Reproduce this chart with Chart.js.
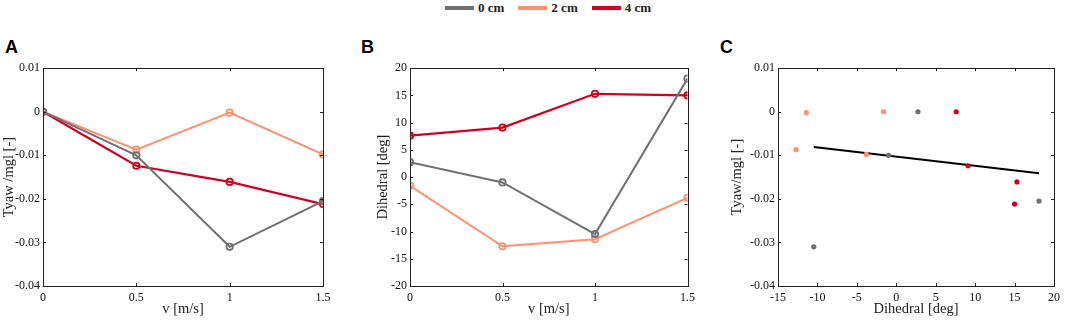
<!DOCTYPE html>
<html>
<head>
<meta charset="utf-8">
<script src="https://cdn.jsdelivr.net/npm/chart.js@4"></script>
<style>
  body { margin: 0; background: #fff; width: 1065px; height: 321px; position: relative; overflow: hidden; }
  canvas { position: absolute; }
  .panel-letter { position: absolute; font: bold 18px "Liberation Sans", Arial, sans-serif; color: #000; }
  #legend { position: absolute; top: 0; left: 445px; height: 15px; display: flex; align-items: center;
            font: bold 13px "Liberation Serif", "Times New Roman", serif; color: #222; }
  #legend .item { display: flex; align-items: center; margin-right: 14px; }
  #legend .swatch { width: 29px; height: 4px; margin-right: 4px; }
</style>
</head>
<body>
<div id="legend"></div>
<div class="panel-letter" style="left:5px; top:37px;">A</div>
<div class="panel-letter" style="left:361px; top:37px;">B</div>
<div class="panel-letter" style="left:720px; top:37px;">C</div>
<canvas id="chart-a" width="340" height="263" style="left:0px; top:58px;"></canvas>
<canvas id="chart-b" width="326" height="263" style="left:374px; top:58px;"></canvas>
<canvas id="chart-c" width="337" height="263" style="left:728px; top:58px;"></canvas>
<script>
// data
const seriesNames = ["0 cm", "2 cm", "4 cm"];
const seriesColors = ["#717171", "#FF8F6E", "#D2001E"];
const speeds = [0, 0.5, 1, 1.5];

const tyaw0 = [0, -0.0100, -0.0310, -0.0205];
const tyaw2 = [0, -0.0087, -0.0002, -0.0098];
const tyaw4 = [0, -0.0124, -0.0161, -0.0212];

const dihedral0 = [2.75, -0.98, -10.46, 18.1];
const dihedral2 = [-1.6, -12.7, -11.4, -3.8];
const dihedral4 = [7.6, 9.1, 15.3, 15.0];

const fitLineX = [-10.46, 18.1];
const fitLineY = [-0.0081, -0.0141];

const speedTicks = [0, 0.5, 1, 1.5];
const tyawTicks = [-0.04, -0.03, -0.02, -0.01, 0, 0.01];
const dihedralTicks = [-20, -15, -10, -5, 0, 5, 10, 15, 20];
const dihedralXTicks = [-15, -10, -5, 0, 5, 10, 15, 20];

const tyawSets = [tyaw0, tyaw2, tyaw4];
const dihedralSets = [dihedral0, dihedral2, dihedral4];

// legend
const legendEl = document.getElementById("legend");
legendEl.innerHTML = seriesNames
  .map((n, i) => `<div class="item"><div class="swatch" style="background:${seriesColors[i]}"></div>${n}</div>`)
  .join("");

const serif = "'Liberation Serif', 'Times New Roman', serif";

// box frame + inward ticks, matlab style
const boxTicks = {
  id: "boxTicks",
  afterDraw(chart) {
    const { ctx, chartArea: a, scales } = chart;
    const len = 3;
    ctx.save();
    ctx.strokeStyle = "#222";
    ctx.lineWidth = 1;
    ctx.strokeRect(Math.round(a.left) + 0.5, Math.round(a.top) + 0.5,
      Math.round(a.right - a.left), Math.round(a.bottom - a.top));
    ctx.beginPath();
    scales.x.ticks.forEach(t => {
      const px = Math.round(scales.x.getPixelForValue(t.value)) + 0.5;
      ctx.moveTo(px, a.bottom); ctx.lineTo(px, a.bottom - len);
      ctx.moveTo(px, a.top); ctx.lineTo(px, a.top + len);
    });
    scales.y.ticks.forEach(t => {
      const py = Math.round(scales.y.getPixelForValue(t.value)) + 0.5;
      ctx.moveTo(a.left, py); ctx.lineTo(a.left + len, py);
      ctx.moveTo(a.right, py); ctx.lineTo(a.right - len, py);
    });
    ctx.stroke();
    ctx.restore();
  }
};

function makeAxis(min, max, tickList, title, fixedSize, horizontal, titlePad) {
  return {
    type: "linear",
    min: min,
    max: max,
    grid: { display: false, drawTicks: false },
    border: { display: false },
    afterBuildTicks: s => { s.ticks = tickList.map(v => ({ value: v })); },
    afterFit: s => { if (horizontal) s.height = fixedSize; else s.width = fixedSize; },
    ticks: {
      padding: horizontal ? 5 : 3,
      color: "#111",
      font: { family: serif, size: 12 },
      maxRotation: 0,
      autoSkip: false,
      callback: v => String(v)
    },
    title: {
      display: true,
      text: title,
      color: "#222",
      font: { family: serif, size: 14.5 },
      padding: titlePad
    }
  };
}

function lineDatasets(ySets) {
  return ySets.map((ys, i) => ({
    label: seriesNames[i],
    data: speeds.map((x, j) => ({ x: x, y: ys[j] })),
    showLine: true,
    borderColor: seriesColors[i],
    backgroundColor: "rgba(0,0,0,0)",
    borderWidth: i === 2 ? 2.2 : 2,
    pointRadius: 3.2,
    pointBorderWidth: 1.8,
    pointBorderColor: seriesColors[i],
    pointBackgroundColor: "rgba(0,0,0,0)"
  }));
}

const baseOpts = {
  responsive: false,
  animation: false,
  devicePixelRatio: 1,
  plugins: { legend: { display: false }, tooltip: { enabled: false } }
};

// A: Tyaw vs speed
new Chart(document.getElementById("chart-a"), {
  type: "scatter",
  data: { datasets: lineDatasets(tyawSets) },
  options: {
    ...baseOpts,
    layout: { padding: { top: 1, right: 17, left: 0, bottom: 0 } },
    scales: {
      x: makeAxis(0, 1.5, speedTicks, "v [m/s]", 35, true, { top: 0, bottom: 3 }),
      y: makeAxis(-0.04, 0.01, tyawTicks, "Tyaw /mgl [-]", 43, false, { top: 0, bottom: 0 })
    }
  },
  plugins: [boxTicks]
});

// B: Dihedral vs speed
new Chart(document.getElementById("chart-b"), {
  type: "scatter",
  data: { datasets: lineDatasets(dihedralSets) },
  options: {
    ...baseOpts,
    layout: { padding: { top: 1, right: 11, left: 0, bottom: 0 } },
    scales: {
      x: makeAxis(0, 1.5, speedTicks, "v [m/s]", 35, true, { top: 0, bottom: 3 }),
      y: makeAxis(-20, 20, dihedralTicks, "Dihedral [deg]", 36, false, { top: 0, bottom: 0 })
    }
  },
  plugins: [boxTicks]
});

// C: Tyaw vs dihedral with fit
const scatterSets = dihedralSets.map((xs, i) => ({
  label: seriesNames[i],
  data: xs.map((x, j) => ({ x: x, y: tyawSets[i][j] })),
  pointRadius: 2.6,
  pointBorderWidth: 0,
  pointBackgroundColor: seriesColors[i],
  backgroundColor: seriesColors[i]
}));
scatterSets.push({
  label: "fit",
  data: fitLineX.map((x, j) => ({ x: x, y: fitLineY[j] })),
  showLine: true,
  borderColor: "#000",
  borderWidth: 2,
  pointRadius: 0
});

new Chart(document.getElementById("chart-c"), {
  type: "scatter",
  data: { datasets: scatterSets },
  options: {
    ...baseOpts,
    layout: { padding: { top: 1, right: 11, left: 0, bottom: 0 } },
    scales: {
      x: makeAxis(-15, 20, dihedralXTicks, "Dihedral [deg]", 35, true, { top: 0, bottom: 3 }),
      y: makeAxis(-0.04, 0.01, tyawTicks, "Tyaw/mgl [-]", 50, false, { top: 0, bottom: 0 })
    }
  },
  plugins: [boxTicks]
});
</script>
</body>
</html>
